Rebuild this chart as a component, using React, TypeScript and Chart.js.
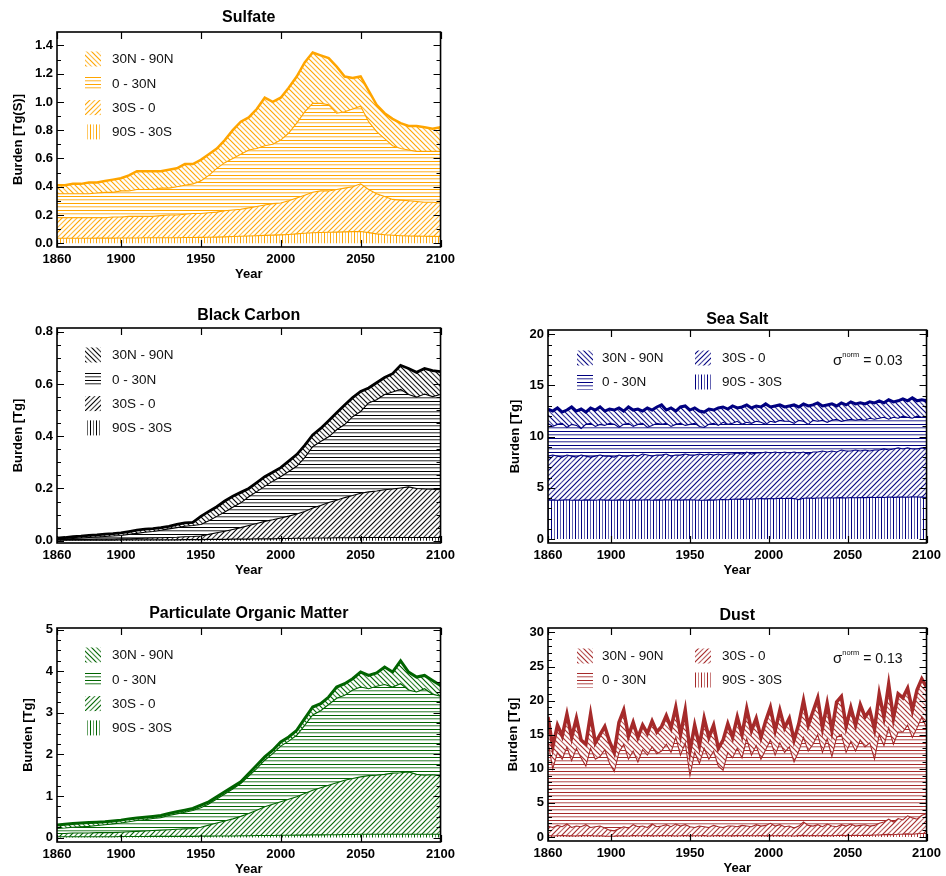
import React, { useEffect, useRef } from 'react';
import { Chart, registerables } from 'chart.js';

Chart.register(...registerables);
Chart.defaults.font.family = "'Liberation Sans', Arial, Helvetica, sans-serif";
Chart.defaults.color = '#000';

// ---------- categories ----------
const YEARS_5 = Array.from({ length: 49 }, (_, i) => 1860 + 5 * i);
const YEARS_3 = Array.from({ length: 81 }, (_, i) => 1860 + 3 * i);
const X_TICKS = [1860, 1900, 1950, 2000, 2050, 2100];
const REGIONS = ['30N - 90N', '0 - 30N', '30S - 0', '90S - 30S'];

// ---------- Sulfate (Tg(S)), cumulative burden up to each band ----------
const SULF_UPTO_90S_30S = [
  0.035, 0.035, 0.035, 0.035, 0.035, 0.036, 0.036, 0.036, 0.037, 0.037,
  0.037, 0.038, 0.038, 0.038, 0.039, 0.039, 0.040, 0.040, 0.041, 0.042,
  0.043, 0.045, 0.047, 0.049, 0.051, 0.053, 0.055, 0.057, 0.059, 0.062,
  0.066, 0.070, 0.074, 0.076, 0.077, 0.078, 0.080, 0.082, 0.083, 0.075,
  0.066, 0.060, 0.056, 0.053, 0.051, 0.050, 0.049, 0.048, 0.047];
const SULF_UPTO_30S_0 = [
  0.18, 0.18, 0.18, 0.18, 0.18, 0.18, 0.18, 0.185, 0.185, 0.19,
  0.19, 0.19, 0.19, 0.195, 0.20, 0.20, 0.205, 0.21, 0.21, 0.215,
  0.22, 0.23, 0.235, 0.24, 0.25, 0.26, 0.27, 0.28, 0.285, 0.30,
  0.32, 0.34, 0.36, 0.37, 0.37, 0.38, 0.39, 0.40, 0.42, 0.38,
  0.35, 0.33, 0.31, 0.305, 0.30, 0.295, 0.29, 0.29, 0.285];
const SULF_UPTO_0_30N = [
  0.35, 0.35, 0.35, 0.35, 0.35, 0.355, 0.36, 0.36, 0.37, 0.37,
  0.38, 0.38, 0.38, 0.39, 0.39, 0.40, 0.41, 0.42, 0.44, 0.48,
  0.53, 0.57, 0.60, 0.63, 0.66, 0.67, 0.69, 0.70, 0.73, 0.78,
  0.85, 0.93, 0.99, 0.99, 0.98, 0.92, 0.93, 0.95, 0.97, 0.86,
  0.79, 0.74, 0.69, 0.67, 0.66, 0.65, 0.65, 0.65, 0.65];
const SULF_TOTAL = [
  0.41, 0.41, 0.42, 0.42, 0.43, 0.43, 0.44, 0.45, 0.46, 0.48,
  0.51, 0.51, 0.51, 0.51, 0.52, 0.53, 0.56, 0.56, 0.59, 0.63,
  0.67, 0.73, 0.80, 0.86, 0.89, 0.95, 1.03, 1.00, 1.03, 1.10,
  1.18, 1.28, 1.35, 1.33, 1.31, 1.25, 1.18, 1.17, 1.18, 1.08,
  0.98, 0.92, 0.88, 0.85, 0.83, 0.83, 0.82, 0.81, 0.82];

// ---------- Black Carbon (Tg) ----------
const BC_UPTO_90S_30S = [
  0.002, 0.002, 0.002, 0.002, 0.002, 0.002, 0.002, 0.002, 0.003, 0.003,
  0.003, 0.003, 0.003, 0.003, 0.003, 0.003, 0.004, 0.004, 0.004, 0.005,
  0.005, 0.005, 0.006, 0.006, 0.006, 0.007, 0.007, 0.007, 0.008, 0.008,
  0.009, 0.009, 0.010, 0.010, 0.010, 0.011, 0.011, 0.011, 0.012, 0.012,
  0.012, 0.012, 0.012, 0.012, 0.012, 0.012, 0.012, 0.012, 0.012];
const BC_UPTO_30S_0 = [
  0.004, 0.004, 0.005, 0.005, 0.005, 0.006, 0.006, 0.006, 0.007, 0.007,
  0.008, 0.009, 0.010, 0.011, 0.012, 0.013, 0.015, 0.016, 0.018, 0.024,
  0.030, 0.036, 0.043, 0.050, 0.058, 0.066, 0.074, 0.080, 0.087, 0.094,
  0.102, 0.112, 0.125, 0.135, 0.146, 0.155, 0.165, 0.173, 0.182, 0.187,
  0.190, 0.195, 0.198, 0.202, 0.206, 0.200, 0.198, 0.197, 0.195];
const BC_UPTO_0_30N = [
  0.005, 0.006, 0.008, 0.010, 0.012, 0.014, 0.016, 0.018, 0.020, 0.024,
  0.028, 0.032, 0.035, 0.040, 0.045, 0.050, 0.055, 0.058, 0.062, 0.076,
  0.093, 0.110, 0.128, 0.145, 0.168, 0.188, 0.208, 0.228, 0.245, 0.265,
  0.285, 0.318, 0.360, 0.380, 0.398, 0.425, 0.445, 0.475, 0.495, 0.528,
  0.540, 0.560, 0.570, 0.580, 0.560, 0.550, 0.562, 0.552, 0.560];
const BC_TOTAL = [
  0.010, 0.012, 0.015, 0.017, 0.020, 0.022, 0.025, 0.027, 0.030, 0.035,
  0.040, 0.044, 0.046, 0.050, 0.055, 0.062, 0.068, 0.070, 0.093, 0.112,
  0.130, 0.152, 0.170, 0.185, 0.200, 0.222, 0.245, 0.262, 0.280, 0.305,
  0.330, 0.365, 0.405, 0.430, 0.460, 0.490, 0.520, 0.548, 0.572, 0.585,
  0.605, 0.625, 0.640, 0.672, 0.660, 0.645, 0.660, 0.652, 0.648];

// ---------- Sea Salt (Tg) ----------
const SS_UPTO_90S_30S = [
  3.80, 3.82, 3.78, 3.80, 3.83, 3.79, 3.81, 3.78, 3.82, 3.80,
  3.79, 3.83, 3.80, 3.81, 3.78, 3.82, 3.80, 3.79, 3.82, 3.80,
  3.81, 3.83, 3.79, 3.82, 3.80, 3.84, 3.81, 3.83, 3.80, 3.82,
  3.84, 3.81, 3.79, 3.78, 3.82, 3.80, 3.84, 3.86, 3.83, 3.88,
  3.90, 3.87, 3.92, 3.89, 3.93, 3.95, 3.92, 3.96, 3.94, 3.98,
  3.96, 3.98, 3.95, 3.85, 3.98, 4.00, 3.97, 4.01, 4.00, 4.03,
  4.00, 4.02, 4.04, 4.01, 4.05, 4.03, 4.06, 4.04, 4.07, 4.05,
  4.08, 4.06, 4.10, 4.07, 4.09, 4.11, 4.08, 4.12, 4.10, 4.09,
  4.05];
const SS_UPTO_30S_0 = [
  8.1, 8.2, 8.1, 8.0, 8.2, 8.1, 8.0, 8.2, 8.1, 8.0,
  8.1, 8.2, 8.1, 8.1, 8.0, 8.2, 8.1, 8.1, 8.2, 8.1,
  8.3, 8.2, 8.1, 8.2, 8.2, 8.3, 8.1, 8.2, 8.2, 8.3,
  8.2, 8.2, 8.3, 8.2, 8.3, 8.2, 8.3, 8.2, 8.3, 8.3,
  8.4, 8.3, 8.5, 8.3, 8.4, 8.4, 8.5, 8.4, 8.5, 8.4,
  8.5, 8.4, 8.5, 8.4, 8.5, 8.3, 8.5, 8.5, 8.6, 8.5,
  8.6, 8.5, 8.7, 8.6, 8.6, 8.7, 8.6, 8.7, 8.6, 8.7,
  8.7, 8.8, 8.7, 8.8, 8.9, 8.8, 8.9, 8.8, 8.8, 8.9,
  8.8];
const SS_UPTO_0_30N = [
  11.3, 11.0, 11.2, 11.3, 10.9, 11.2, 11.1, 10.8, 11.2, 11.3,
  11.0, 11.2, 11.1, 11.3, 11.2, 10.9, 11.2, 11.3, 11.0, 11.2,
  11.3, 10.9, 11.1, 11.3, 11.2, 11.3, 11.0, 11.2, 11.3, 11.1,
  11.2, 11.3, 11.0, 10.9, 11.2, 11.3, 11.1, 11.4, 11.2, 11.3,
  11.5, 11.2, 11.4, 11.3, 11.5, 11.4, 11.2, 11.5, 11.4, 11.6,
  11.5, 11.5, 11.3, 11.6, 11.5, 11.2, 11.6, 11.5, 11.6, 11.4,
  11.6, 11.7, 11.5, 11.6, 11.7, 11.6, 11.7, 11.6, 11.8, 11.7,
  11.8, 11.9, 11.7, 11.9, 11.8, 12.0, 11.9, 11.8, 12.0, 11.9,
  11.9];
const SS_TOTAL = [
  12.7, 12.5, 12.8, 12.4, 12.6, 12.9, 12.5, 12.7, 12.4, 12.8,
  12.6, 12.9, 12.5, 12.7, 12.6, 12.8, 12.5, 12.9, 12.6, 12.7,
  12.5, 12.8, 12.6, 12.9, 13.1, 12.6, 12.8, 12.5, 12.9, 13.0,
  12.6, 12.8, 12.5, 12.4, 12.7, 12.6, 12.8, 12.9, 12.7, 13.0,
  12.8, 12.9, 13.1, 12.8, 13.0, 12.9, 13.2, 12.9, 13.0, 13.1,
  12.9, 13.0, 13.1, 12.9, 13.2, 13.0, 13.1, 13.3, 13.0, 13.1,
  13.2, 13.0, 13.3, 13.1, 13.4, 13.2, 13.3, 13.2, 13.4, 13.3,
  13.5, 13.3, 13.6, 13.4, 13.5, 13.7, 13.5, 13.8, 13.5, 13.6,
  13.5];

// ---------- Particulate Organic Matter (Tg) ----------
const POM_UPTO_90S_30S = [
  0.02, 0.02, 0.02, 0.02, 0.02, 0.02, 0.02, 0.02, 0.025, 0.025,
  0.025, 0.025, 0.03, 0.03, 0.03, 0.03, 0.03, 0.03, 0.035, 0.035,
  0.04, 0.04, 0.04, 0.045, 0.045, 0.05, 0.05, 0.05, 0.055, 0.055,
  0.06, 0.06, 0.065, 0.065, 0.07, 0.07, 0.075, 0.075, 0.08, 0.08,
  0.08, 0.08, 0.08, 0.08, 0.08, 0.08, 0.08, 0.08, 0.08];
const POM_UPTO_30S_0 = [
  0.10, 0.10, 0.11, 0.11, 0.11, 0.12, 0.12, 0.12, 0.13, 0.14,
  0.15, 0.16, 0.17, 0.18, 0.19, 0.20, 0.21, 0.22, 0.25, 0.30,
  0.35, 0.40, 0.45, 0.51, 0.58, 0.66, 0.74, 0.80, 0.86, 0.92,
  0.98, 1.06, 1.14, 1.20, 1.26, 1.32, 1.38, 1.42, 1.46, 1.49,
  1.50, 1.52, 1.55, 1.56, 1.58, 1.52, 1.50, 1.51, 1.48];
const POM_UPTO_0_30N = [
  0.22, 0.23, 0.25, 0.26, 0.27, 0.29, 0.31, 0.33, 0.35, 0.38,
  0.41, 0.43, 0.46, 0.48, 0.53, 0.57, 0.61, 0.65, 0.72, 0.81,
  0.93, 1.05, 1.17, 1.30, 1.48, 1.66, 1.86, 2.02, 2.20, 2.32,
  2.46, 2.70, 2.95, 3.05, 3.20, 3.35, 3.42, 3.55, 3.62, 3.58,
  3.64, 3.68, 3.62, 3.70, 3.55, 3.50, 3.58, 3.45, 3.40];
const POM_TOTAL = [
  0.30, 0.32, 0.34, 0.35, 0.36, 0.37, 0.38, 0.40, 0.42, 0.45,
  0.47, 0.49, 0.51, 0.53, 0.58, 0.62, 0.66, 0.70, 0.78, 0.86,
  0.98, 1.10, 1.22, 1.34, 1.54, 1.74, 1.94, 2.10, 2.30, 2.42,
  2.58, 2.86, 3.14, 3.22, 3.38, 3.62, 3.70, 3.82, 3.98, 3.90,
  3.96, 4.10, 3.98, 4.25, 3.98, 3.86, 3.90, 3.78, 3.66];

// ---------- Dust (Tg) ----------
const DUST_UPTO_90S_30S = [
  0.20, 0.15, 0.18, 0.22, 0.16, 0.19, 0.14, 0.20, 0.17, 0.21,
  0.15, 0.18, 0.13, 0.10, 0.12, 0.16, 0.19, 0.15, 0.20, 0.17,
  0.18, 0.21, 0.16, 0.19, 0.22, 0.17, 0.20, 0.15, 0.18, 0.21,
  0.16, 0.19, 0.17, 0.20, 0.15, 0.18, 0.21, 0.17, 0.19, 0.16,
  0.20, 0.18, 0.22, 0.17, 0.19, 0.21, 0.16, 0.20, 0.18, 0.22,
  0.17, 0.19, 0.15, 0.20, 0.23, 0.18, 0.21, 0.19, 0.22, 0.20,
  0.18, 0.21, 0.24, 0.20, 0.22, 0.25, 0.21, 0.26, 0.23, 0.28,
  0.30, 0.34, 0.38, 0.33, 0.40, 0.42, 0.46, 0.41, 0.48, 0.50,
  0.52];
const DUST_UPTO_30S_0 = [
  1.6, 1.4, 1.7, 1.5, 1.9, 1.4, 1.6, 1.5, 1.8, 1.4,
  1.5, 1.6, 1.3, 1.0, 0.9, 1.2, 1.5, 1.3, 1.8, 1.5,
  1.6, 1.4, 1.9, 1.5, 1.6, 1.8, 1.5, 1.9, 1.6, 1.8,
  1.5, 1.4, 1.6, 1.5, 1.4, 1.7, 1.5, 1.4, 1.6, 1.6,
  1.5, 1.7, 1.6, 1.5, 1.8, 1.6, 1.7, 2.0, 1.6, 1.8,
  1.5, 1.6, 1.3, 1.6, 2.2, 1.7, 1.6, 1.8, 1.5, 1.9,
  1.6, 1.5, 1.8, 1.6, 1.9, 1.6, 1.7, 1.8, 1.6, 1.7,
  2.0, 2.2, 2.6, 2.2, 2.7, 2.5, 3.1, 2.8, 2.6, 3.2,
  3.4];
const DUST_UPTO_0_30N = [
  14.0, 10.0, 12.4, 11.4, 13.2, 11.2, 13.0, 11.6, 10.4, 13.0,
  11.4, 11.8, 12.8, 10.8, 9.6, 12.4, 13.6, 11.4, 12.6, 11.0,
  12.8, 12.0, 13.2, 12.2, 12.6, 13.6, 12.4, 14.6, 12.0, 13.8,
  9.0, 12.4, 10.8, 13.0, 11.4, 12.6, 10.4, 9.8, 12.4, 11.6,
  13.0, 11.6, 14.4, 12.0, 13.4, 11.4, 12.8, 14.2, 12.0, 13.8,
  12.4, 13.2, 11.0, 12.6, 14.6, 12.6, 13.6, 15.0, 12.4, 14.4,
  11.8, 14.6, 15.0, 12.4, 14.0, 12.6, 14.2, 13.2, 13.8, 11.4,
  15.0, 13.4, 16.0, 13.6, 15.4, 15.4, 16.4, 14.6, 16.0, 17.6,
  16.0];
const DUST_TOTAL = [
  17.6, 13.2, 16.4, 14.8, 18.0, 14.6, 17.4, 14.2, 13.6, 18.0,
  13.8, 15.0, 16.2, 14.0, 12.4, 16.8, 18.6, 14.8, 16.8, 14.6,
  16.4, 15.2, 17.0, 15.4, 16.2, 17.8, 16.0, 19.0, 15.0, 18.6,
  12.6, 16.4, 13.4, 17.4, 14.6, 16.4, 13.0, 14.2, 16.6, 14.6,
  17.6, 15.0, 18.8, 15.6, 17.4, 14.6, 17.0, 19.0, 15.6, 18.6,
  16.0, 17.4, 14.2, 16.6, 20.0, 16.4, 18.4, 20.4, 16.0, 19.6,
  15.6, 19.8, 20.6, 16.2, 19.0, 16.4, 19.4, 17.6, 18.6, 15.8,
  21.0, 17.6, 22.4, 17.4, 21.0, 20.4, 21.8, 18.6, 21.6, 23.2,
  22.0];

// ---------- axis ticks ----------
const SULF_Y_TICKS = [0, 0.2, 0.4, 0.6, 0.8, 1.0, 1.2, 1.4];
const BC_Y_TICKS = [0, 0.2, 0.4, 0.6, 0.8];
const SS_Y_TICKS = [0, 5, 10, 15, 20];
const POM_Y_TICKS = [0, 1, 2, 3, 4, 5];
const DUST_Y_TICKS = [0, 5, 10, 15, 20, 25, 30];

type Panel = {
  title: string; color: string; years: number[]; bands: number[][];
  yMin: number; yMax: number; yTicks: number[]; yMinorStep: number; dec: number;
  yLabel: string; plot: { l: number; t: number; r: number; b: number };
  yTitleOff: number; titleGap: number; twoCol: boolean; sigma?: string; topWidth: number;
};

const PANELS: Panel[] = [
  { title: 'Sulfate', color: '#FFA500', years: YEARS_5,
    bands: [SULF_UPTO_90S_30S, SULF_UPTO_30S_0, SULF_UPTO_0_30N, SULF_TOTAL],
    yMin: -0.027, yMax: 1.495, yTicks: SULF_Y_TICKS, yMinorStep: 0.1, dec: 1,
    yLabel: 'Burden [Tg(S)]', plot: { l: 57, t: 32, r: 445, b: 247 },
    yTitleOff: 39, titleGap: 14, twoCol: false, topWidth: 2.5 },
  { title: 'Black Carbon', color: '#000000', years: YEARS_5,
    bands: [BC_UPTO_90S_30S, BC_UPTO_30S_0, BC_UPTO_0_30N, BC_TOTAL],
    yMin: -0.009, yMax: 0.815, yTicks: BC_Y_TICKS, yMinorStep: 0.05, dec: 1,
    yLabel: 'Burden [Tg]', plot: { l: 57, t: 328, r: 445, b: 543 },
    yTitleOff: 39, titleGap: 12, twoCol: false, topWidth: 2.8 },
  { title: 'Sea Salt', color: '#000080', years: YEARS_3,
    bands: [SS_UPTO_90S_30S, SS_UPTO_30S_0, SS_UPTO_0_30N, SS_TOTAL],
    yMin: -0.39, yMax: 20.42, yTicks: SS_Y_TICKS, yMinorStep: 1, dec: 0,
    yLabel: 'Burden [Tg]', plot: { l: 548, t: 330, r: 931, b: 543 },
    yTitleOff: 33, titleGap: 10, twoCol: true, sigma: '0.03', topWidth: 3 },
  { title: 'Particulate Organic Matter', color: '#006400', years: YEARS_5,
    bands: [POM_UPTO_90S_30S, POM_UPTO_30S_0, POM_UPTO_0_30N, POM_TOTAL],
    yMin: -0.106, yMax: 5.04, yTicks: POM_Y_TICKS, yMinorStep: 0.25, dec: 0,
    yLabel: 'Burden [Tg]', plot: { l: 57, t: 628, r: 445, b: 842 },
    yTitleOff: 29, titleGap: 14, twoCol: false, topWidth: 3 },
  { title: 'Dust', color: '#A52A2A', years: YEARS_3,
    bands: [DUST_UPTO_90S_30S, DUST_UPTO_30S_0, DUST_UPTO_0_30N, DUST_TOTAL],
    yMin: -0.59, yMax: 30.65, yTicks: DUST_Y_TICKS, yMinorStep: 1, dec: 0,
    yLabel: 'Burden [Tg]', plot: { l: 548, t: 628, r: 931, b: 841 },
    yTitleOff: 35, titleGap: 12, twoCol: true, sigma: '0.13', topWidth: 3.5 },
];

const LEFT_W = 57, RIGHT_W = 15, TOP_H = 32, BOTTOM_H = 36;
const FONT = "'Liberation Sans', Arial, Helvetica, sans-serif";

function hatch(kind: string, color: string): CanvasPattern {
  const size = kind === 'h' ? 7 : kind === 'v' ? 6 : 10;
  const c = document.createElement('canvas');
  c.width = size; c.height = size;
  const g = c.getContext('2d')!;
  g.fillStyle = color; g.strokeStyle = color; g.lineWidth = 1.15;
  if (kind === 'h') {
    g.globalAlpha = 1; g.fillRect(0, 0, size, 1);
    g.globalAlpha = 0.6; g.fillRect(0, 3, size, 1);
    g.globalAlpha = 0.25; g.fillRect(0, 4, size, 1);
  } else if (kind === 'v') {
    g.globalAlpha = 1; g.fillRect(0, 0, 1, size);
    g.globalAlpha = 0.6; g.fillRect(3, 0, 1, size);
  } else {
    for (let k = -2; k <= 2; k++) {
      g.globalAlpha = Math.abs(k) % 2 === 0 ? 1 : 0.75;
      g.beginPath();
      if (kind === 'bs') { g.moveTo(k * 5 - 1, -1); g.lineTo(k * 5 + size + 1, size + 1); }
      else { g.moveTo(k * 5 - 1, size + 1); g.lineTo(k * 5 + size + 1, -1); }
      g.stroke();
    }
  }
  return g.createPattern(c, 'repeat')!;
}

const decoPlugin = {
  id: 'panelDeco',
  afterDraw(chart: any, _args: any, opts: any) {
    const { ctx } = chart;
    const { left, top, right, bottom } = chart.chartArea;
    const ys = chart.scales.y, xs = chart.scales.x;
    ctx.save();
    ctx.strokeStyle = '#000';
    ctx.lineWidth = 1.2;
    const eps = 1e-9;
    const minorStart = Math.ceil((ys.min - eps) / opts.yMinorStep) * opts.yMinorStep;
    for (let v = minorStart; v <= ys.max + eps; v += opts.yMinorStep) {
      const isMajor = opts.yTicks.some((t: number) => Math.abs(t - v) < 1e-6);
      const len = isMajor ? 7 : 4;
      const y = Math.round(ys.getPixelForValue(v)) + 0.5;
      ctx.beginPath();
      ctx.moveTo(left, y); ctx.lineTo(left + len, y);
      ctx.moveTo(right, y); ctx.lineTo(right - len, y);
      ctx.stroke();
    }
    for (const t of X_TICKS) {
      const x = Math.round(xs.getPixelForValue(t)) + 0.5;
      ctx.beginPath();
      ctx.moveTo(x, bottom); ctx.lineTo(x, bottom - 7);
      ctx.moveTo(x, top); ctx.lineTo(x, top + 7);
      ctx.stroke();
    }
    ctx.lineWidth = 1.6;
    ctx.strokeRect(left, top, right - left, bottom - top);

    // title
    ctx.fillStyle = '#000';
    ctx.font = `bold 16px ${FONT}`;
    ctx.textAlign = 'center';
    ctx.textBaseline = 'middle';
    ctx.fillText(opts.title, (left + right) / 2, top - opts.titleGap);

    // legend
    ctx.font = `13.5px ${FONT}`;
    ctx.textAlign = 'left';
    const items = opts.items as { label: string; pattern: CanvasPattern }[];
    items.forEach((it, i) => {
      let bx: number, cy: number, tx: number;
      if (opts.twoCol) {
        const col = Math.floor(i / 2), row = i % 2;
        bx = left + (col === 0 ? 29 : 147);
        tx = left + (col === 0 ? 54 : 174);
        cy = top + 28 + row * 24;
      } else {
        bx = left + 28; tx = left + 55; cy = top + 27 + i * 24.3;
      }
      ctx.fillStyle = it.pattern;
      ctx.fillRect(bx, cy - 7.5, 16, 15);
      ctx.fillStyle = '#111';
      ctx.fillText(it.label, tx, cy + 0.5);
    });

    // sigma annotation
    if (opts.sigma) {
      const sx = left + 285, sy = top + 31;
      ctx.fillStyle = '#111';
      ctx.font = `15px ${FONT}`;
      ctx.fillText('σ', sx, sy);
      const w1 = ctx.measureText('σ').width;
      ctx.font = `7.5px ${FONT}`;
      ctx.fillText('norm', sx + w1, sy - 6);
      const w2 = ctx.measureText('norm').width;
      ctx.font = `14px ${FONT}`;
      ctx.fillText(' = ' + opts.sigma, sx + w1 + w2, sy);
    }
    ctx.restore();
  },
};

function PanelChart({ cfg }: { cfg: Panel }) {
  const ref = useRef<HTMLCanvasElement>(null);
  const w = cfg.plot.r - cfg.plot.l + LEFT_W + RIGHT_W;
  const h = cfg.plot.b - cfg.plot.t + TOP_H + BOTTOM_H;
  useEffect(() => {
    const canvas = ref.current!;
    const kinds = ['v', 'fs', 'h', 'bs'];
    const pats = kinds.map((k) => hatch(k, cfg.color));
    const datasets = cfg.bands.map((arr, i) => ({
      label: REGIONS[3 - i],
      data: arr,
      borderColor: cfg.color,
      borderWidth: i === 3 ? cfg.topWidth : 1.1,
      backgroundColor: pats[i],
      fill: i === 0 ? 'origin' : '-1',
      pointRadius: 0,
      tension: 0,
      order: 3 - i,
    }));
    const legendItems = [3, 2, 1, 0].map((i) => ({ label: REGIONS[3 - i], pattern: pats[i] }));
    const axisFont = { size: 13, weight: 'bold' as const, family: FONT };
    const chart = new Chart(canvas, {
      type: 'line',
      data: { labels: cfg.years, datasets: datasets as any },
      options: {
        animation: false,
        responsive: false,
        devicePixelRatio: 1,
        layout: { padding: { left: 0, top: TOP_H, right: RIGHT_W, bottom: 0 }, autoPadding: false } as any,
        plugins: {
          legend: { display: false },
          tooltip: { enabled: false },
          panelDeco: {
            title: cfg.title, titleGap: cfg.titleGap, items: legendItems, twoCol: cfg.twoCol,
            sigma: cfg.sigma, yTicks: cfg.yTicks, yMinorStep: cfg.yMinorStep,
          },
        } as any,
        scales: {
          x: {
            type: 'linear', min: 1860, max: 2100,
            grid: { display: false, drawTicks: false }, border: { display: false },
            afterBuildTicks: (s: any) => { s.ticks = X_TICKS.map((v) => ({ value: v })); },
            afterFit: (s: any) => { s.height = BOTTOM_H; },
            ticks: { padding: 5, font: axisFont, color: '#000', autoSkip: false, maxRotation: 0,
              callback: (v: any) => String(v) },
            title: { display: true, text: 'Year', font: axisFont, color: '#000', padding: { top: 0, bottom: 1.2 } },
          },
          y: {
            type: 'linear', min: cfg.yMin, max: cfg.yMax,
            grid: { display: false, drawTicks: false }, border: { display: false },
            afterBuildTicks: (s: any) => { s.ticks = cfg.yTicks.map((v) => ({ value: v })); },
            afterFit: (s: any) => { s.width = LEFT_W; },
            ticks: { padding: 4, font: axisFont, color: '#000', autoSkip: false,
              callback: (v: any) => Number(v).toFixed(cfg.dec) },
            title: { display: true, text: cfg.yLabel, font: axisFont, color: '#000',
              padding: { top: LEFT_W - cfg.yTitleOff - 7.8, bottom: 0 } },
          },
        },
      } as any,
      plugins: [decoPlugin],
    });
    return () => chart.destroy();
  }, [cfg]);
  return (
    <canvas
      ref={ref}
      width={w}
      height={h}
      style={{ position: 'absolute', left: cfg.plot.l - LEFT_W, top: cfg.plot.t - TOP_H, width: w, height: h }}
    />
  );
}

export default function App() {
  return (
    <div style={{ position: 'absolute', left: 0, top: 0, width: 946, height: 876, overflow: 'hidden', background: '#fff' }}>
      {PANELS.map((p) => <PanelChart key={p.title} cfg={p} />)}
    </div>
  );
}
